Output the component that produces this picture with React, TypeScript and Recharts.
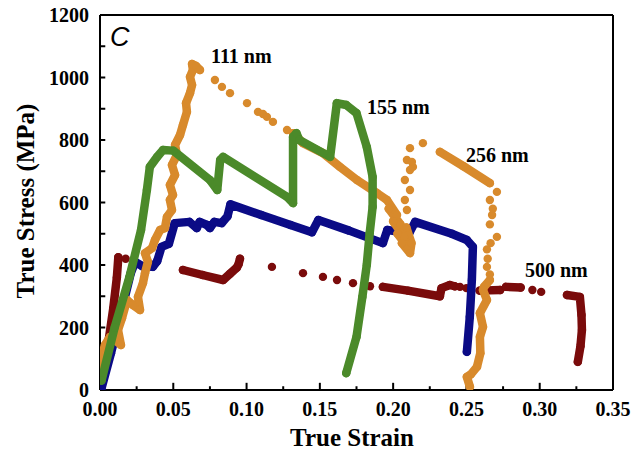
import React from "react";
import { ScatterChart, Scatter, XAxis, YAxis, ReferenceLine } from "recharts";

const SERIF = "'Liberation Serif', 'Times New Roman', serif";
const RED = "#7a0b0b";
const BLUE = "#0b0b86";
const ORANGE = "#d88a2c";
const GREEN = "#4b8a2a";

// axis ticks
const X_TICKS = [0, 0.05, 0.1, 0.15, 0.2, 0.25, 0.3, 0.35];
const X_MAJOR_MARKS = [0.05, 0.1, 0.15, 0.2, 0.25, 0.3];
const X_MINOR_MARKS = [0.025, 0.075, 0.125, 0.175, 0.225, 0.275, 0.325];
const Y_TICKS = [0, 200, 400, 600, 800, 1000, 1200];
const Y_MARKS = [100, 200, 300, 400, 500, 600, 700, 800, 900, 1000, 1100];

// 500 nm (dark red)
const red500Rise = [
  { x: 0.001, y: 15 }, { x: 0.005, y: 130 }, { x: 0.009, y: 260 }, { x: 0.0115, y: 360 }, { x: 0.0125, y: 425 },
];
const red500Mid = [
  { x: 0.0566, y: 384 }, { x: 0.07, y: 368 }, { x: 0.084, y: 352 }, { x: 0.0887, y: 372 },
  { x: 0.0934, y: 392 }, { x: 0.0945, y: 402 }, { x: 0.0955, y: 420 },
];
const red500Low = [
  { x: 0.193, y: 330 }, { x: 0.21, y: 318 }, { x: 0.2319, y: 300 }, { x: 0.233, y: 326 },
  { x: 0.2387, y: 336 }, { x: 0.242, y: 332 },
];
const red500Seg = [{ x: 0.259, y: 318 }, { x: 0.273, y: 320 }];
const red500Seg2 = [{ x: 0.277, y: 330 }, { x: 0.287, y: 328 }];
const red500End = [
  { x: 0.3186, y: 304 }, { x: 0.3274, y: 298 }, { x: 0.3285, y: 240 }, { x: 0.3288, y: 192 },
  { x: 0.3278, y: 140 }, { x: 0.326, y: 90 },
];
const red500Dots = [
  { x: 0.0175, y: 420 }, { x: 0.1173, y: 394 }, { x: 0.1385, y: 374 }, { x: 0.1521, y: 362 },
  { x: 0.1617, y: 352 }, { x: 0.1726, y: 342 }, { x: 0.1842, y: 332 }, { x: 0.2456, y: 330 },
  { x: 0.25, y: 326 }, { x: 0.295, y: 320 }, { x: 0.301, y: 314 },
];

// blue
const blueLine = [
  { x: 0.001, y: 5 }, { x: 0.0075, y: 118 }, { x: 0.0143, y: 246 }, { x: 0.021, y: 374 }, { x: 0.024, y: 410 },
  { x: 0.029, y: 396 }, { x: 0.036, y: 394 }, { x: 0.039, y: 412 }, { x: 0.042, y: 458 }, { x: 0.047, y: 468 },
  { x: 0.051, y: 534 }, { x: 0.061, y: 538 }, { x: 0.066, y: 518 }, { x: 0.068, y: 538 }, { x: 0.073, y: 528 },
  { x: 0.075, y: 518 }, { x: 0.078, y: 538 }, { x: 0.083, y: 534 }, { x: 0.087, y: 556 }, { x: 0.089, y: 594 },
  { x: 0.11, y: 560 }, { x: 0.13, y: 528 }, { x: 0.1446, y: 505 }, { x: 0.149, y: 544 }, { x: 0.17, y: 510 },
  { x: 0.193, y: 470 }, { x: 0.196, y: 512 }, { x: 0.211, y: 502 }, { x: 0.215, y: 538 }, { x: 0.24, y: 500 },
  { x: 0.2503, y: 480 }, { x: 0.2544, y: 458 }, { x: 0.2537, y: 352 }, { x: 0.2523, y: 234 }, { x: 0.2503, y: 122 },
];

// orange
const orangeRise = [
  { x: 0.0, y: 48 }, { x: 0.0014, y: 112 }, { x: 0.0034, y: 144 }, { x: 0.0068, y: 170 }, { x: 0.0102, y: 160 },
  { x: 0.0143, y: 144 }, { x: 0.0123, y: 192 }, { x: 0.015, y: 230 }, { x: 0.0184, y: 288 }, { x: 0.0225, y: 272 },
  { x: 0.0273, y: 256 }, { x: 0.0259, y: 298 }, { x: 0.0293, y: 342 }, { x: 0.0307, y: 374 }, { x: 0.0327, y: 410 },
  { x: 0.0307, y: 438 }, { x: 0.0355, y: 454 }, { x: 0.0375, y: 480 }, { x: 0.041, y: 512 }, { x: 0.0443, y: 518 },
  { x: 0.0457, y: 554 }, { x: 0.0491, y: 576 }, { x: 0.0477, y: 608 }, { x: 0.0498, y: 624 }, { x: 0.0477, y: 656 },
  { x: 0.0512, y: 688 }, { x: 0.0491, y: 720 }, { x: 0.0525, y: 752 }, { x: 0.0512, y: 784 }, { x: 0.0546, y: 816 },
  { x: 0.0566, y: 848 }, { x: 0.0593, y: 890 }, { x: 0.0587, y: 918 }, { x: 0.0614, y: 950 }, { x: 0.0628, y: 976 },
  { x: 0.0614, y: 1002 }, { x: 0.0634, y: 1024 }, { x: 0.0628, y: 1043 }, { x: 0.0655, y: 1037 }, { x: 0.0682, y: 1024 },
];
const orangeDesc = [
  { x: 0.1317, y: 822 }, { x: 0.1385, y: 790 }, { x: 0.1521, y: 758 }, { x: 0.1637, y: 714 }, { x: 0.1753, y: 672 },
  { x: 0.189, y: 630 }, { x: 0.1958, y: 608 }, { x: 0.2026, y: 560 }, { x: 0.197, y: 580 }, { x: 0.205, y: 530 },
  { x: 0.2, y: 540 }, { x: 0.2075, y: 490 }, { x: 0.203, y: 500 }, { x: 0.2094, y: 460 }, { x: 0.206, y: 470 },
  { x: 0.2115, y: 438 }, { x: 0.2125, y: 470 }, { x: 0.209, y: 520 },
];
const orange256 = [{ x: 0.2319, y: 762 }, { x: 0.248, y: 716 }, { x: 0.266, y: 662 }];
const orangeTail = [
  { x: 0.266, y: 352 }, { x: 0.262, y: 330 }, { x: 0.2613, y: 320 }, { x: 0.264, y: 288 }, { x: 0.2592, y: 246 },
  { x: 0.2613, y: 202 }, { x: 0.2592, y: 170 }, { x: 0.2595, y: 118 }, { x: 0.2572, y: 74 }, { x: 0.253, y: 50 },
  { x: 0.2503, y: 42 }, { x: 0.2524, y: 10 },
];
const orangeDots = [
  { x: 0.0784, y: 992 }, { x: 0.0832, y: 970 }, { x: 0.0887, y: 950 }, { x: 0.1003, y: 918 }, { x: 0.1078, y: 890 },
  { x: 0.1112, y: 883 }, { x: 0.1139, y: 874 }, { x: 0.118, y: 858 }, { x: 0.1276, y: 832 },
  { x: 0.2094, y: 576 }, { x: 0.208, y: 608 }, { x: 0.2115, y: 640 }, { x: 0.208, y: 672 }, { x: 0.2115, y: 704 },
  { x: 0.2135, y: 714 }, { x: 0.2094, y: 736 }, { x: 0.2128, y: 730 }, { x: 0.2115, y: 774 }, { x: 0.2203, y: 790 },
  { x: 0.2708, y: 634 }, { x: 0.266, y: 608 }, { x: 0.268, y: 580 }, { x: 0.2675, y: 560 }, { x: 0.266, y: 530 },
  { x: 0.2708, y: 490 }, { x: 0.2665, y: 470 }, { x: 0.264, y: 450 }, { x: 0.2645, y: 420 }, { x: 0.264, y: 394 },
  { x: 0.266, y: 370 },
];

// 155 nm (green)
const greenLine = [
  { x: 0.001, y: 30 }, { x: 0.01, y: 200 }, { x: 0.02, y: 360 }, { x: 0.028, y: 512 }, { x: 0.032, y: 640 },
  { x: 0.034, y: 714 }, { x: 0.039, y: 746 }, { x: 0.043, y: 768 }, { x: 0.05, y: 766 }, { x: 0.075, y: 672 },
  { x: 0.08, y: 640 }, { x: 0.082, y: 736 }, { x: 0.084, y: 746 }, { x: 0.1276, y: 618 }, { x: 0.1317, y: 598 },
  { x: 0.1317, y: 810 }, { x: 0.134, y: 822 }, { x: 0.136, y: 800 }, { x: 0.157, y: 746 }, { x: 0.1616, y: 918 },
  { x: 0.168, y: 912 }, { x: 0.175, y: 886 }, { x: 0.182, y: 778 }, { x: 0.186, y: 682 }, { x: 0.186, y: 586 },
  { x: 0.184, y: 502 }, { x: 0.182, y: 400 }, { x: 0.179, y: 298 }, { x: 0.175, y: 170 }, { x: 0.168, y: 54 },
];

const dot = (color: string) => (p: any) => <circle cx={p.cx} cy={p.cy} r={4.2} fill={color} />;

const denseProps = (color: string) => ({
  fill: color,
  line: { stroke: color, strokeWidth: 8.5, strokeLinejoin: "round", strokeLinecap: "round" } as any,
  shape: dot(color),
  isAnimationActive: false,
});

const dotsProps = (color: string) => ({
  fill: color,
  shape: dot(color),
  isAnimationActive: false,
});

const tickStyle = { fill: "#000", fontSize: 20, fontWeight: "bold", fontFamily: SERIF };

export default function App() {
  return (
    <div style={{ position: "absolute", left: 0, top: 0, width: 644, height: 451, background: "#fff" }}>
      <ScatterChart width={644} height={451} margin={{ top: 15, right: 31, left: 40, bottom: 31 }}>
        <XAxis
          type="number"
          dataKey="x"
          domain={[0, 0.35]}
          ticks={X_TICKS}
          tickFormatter={(v: number) => v.toFixed(2)}
          tick={tickStyle}
          tickLine={false}
          tickSize={0}
          tickMargin={12}
          height={30}
          axisLine={{ stroke: "#000", strokeWidth: 2 }}
          allowDataOverflow
        />
        <YAxis
          type="number"
          dataKey="y"
          domain={[0, 1200]}
          ticks={Y_TICKS}
          tick={tickStyle}
          tickLine={false}
          tickSize={0}
          tickMargin={11}
          width={60}
          axisLine={{ stroke: "#000", strokeWidth: 2 }}
          allowDataOverflow
        />
        <ReferenceLine y={1200} stroke="#000" strokeWidth={2} ifOverflow="visible" />
        <ReferenceLine x={0.35} stroke="#000" strokeWidth={2} ifOverflow="visible" />
        {Y_MARKS.map((v) => (
          <ReferenceLine key={"ym" + v} segment={[{ x: 0, y: v }, { x: 0.0036, y: v }]} stroke="#000" strokeWidth={2} ifOverflow="visible" />
        ))}
        {X_MAJOR_MARKS.map((v) => (
          <ReferenceLine key={"xM" + v} segment={[{ x: v, y: 0 }, { x: v, y: 23 }]} stroke="#000" strokeWidth={2} ifOverflow="visible" />
        ))}
        {X_MINOR_MARKS.map((v) => (
          <ReferenceLine key={"xm" + v} segment={[{ x: v, y: 0 }, { x: v, y: 12 }]} stroke="#000" strokeWidth={2} ifOverflow="visible" />
        ))}

        <Scatter data={red500Rise} {...denseProps(RED)} />
        <Scatter data={red500Mid} {...denseProps(RED)} />
        <Scatter data={red500Low} {...denseProps(RED)} />
        <Scatter data={red500Seg} {...denseProps(RED)} />
        <Scatter data={red500Seg2} {...denseProps(RED)} />
        <Scatter data={red500End} {...denseProps(RED)} />
        <Scatter data={red500Dots} {...dotsProps(RED)} />

        <Scatter data={blueLine} {...denseProps(BLUE)} />

        <Scatter data={orangeRise} {...denseProps(ORANGE)} />
        <Scatter data={orangeDesc} {...denseProps(ORANGE)} />
        <Scatter data={orange256} {...denseProps(ORANGE)} />
        <Scatter data={orangeTail} {...denseProps(ORANGE)} />
        <Scatter data={orangeDots} {...dotsProps(ORANGE)} />

        <Scatter data={greenLine} {...denseProps(GREEN)} />
      </ScatterChart>

      <svg width={644} height={451} style={{ position: "absolute", left: 0, top: 0, pointerEvents: "none" }}>
        <text x={110} y={46} fontFamily="'Liberation Sans', Arial, sans-serif" fontStyle="italic" fontSize={27}>C</text>
        <g fontFamily={SERIF} fontWeight="bold" fontSize={20} fill="#000">
          <text x={211} y={63}>111 nm</text>
          <text x={367} y={114}>155 nm</text>
          <text x={466} y={162}>256 nm</text>
          <text x={525} y={277}>500 nm</text>
        </g>
        <text x={352} y={446} textAnchor="middle" fontFamily={SERIF} fontWeight="bold" fontSize={25}>True Strain</text>
        <text
          transform="translate(25,201) rotate(-90)"
          textAnchor="middle"
          dominantBaseline="central"
          fontFamily={SERIF}
          fontWeight="bold"
          fontSize={25}
        >
          True Stress (MPa)
        </text>
      </svg>
    </div>
  );
}
